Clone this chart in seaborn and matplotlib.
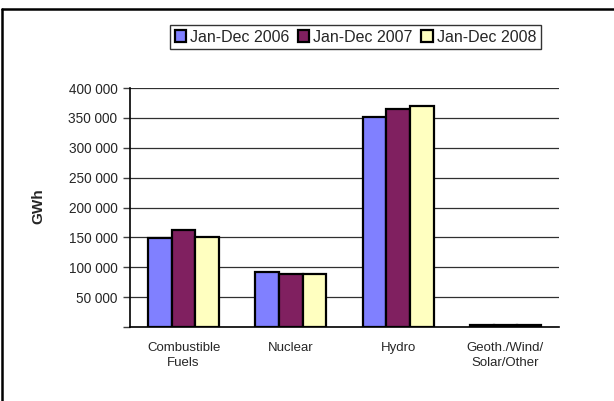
import pandas as pd
import numpy as np
import matplotlib
matplotlib.use("Agg")
import matplotlib.pyplot as plt
from matplotlib.lines import Line2D
from matplotlib.ticker import FuncFormatter
import seaborn as sns

# data
categories = ["Combustible\nFuels", "Nuclear", "Hydro", "Geoth./Wind/\nSolar/Other"]
periods = ["Jan-Dec 2006", "Jan-Dec 2007", "Jan-Dec 2008"]
gwh_2006 = [148500, 92500, 352000, 3500]
gwh_2007 = [162500, 88500, 365500, 3800]
gwh_2008 = [151000, 88500, 370000, 3600]

df = pd.DataFrame({
    "source": categories * 3,
    "period": np.repeat(periods, len(categories)),
    "GWh": gwh_2006 + gwh_2007 + gwh_2008,
})

sns.set_style("white")
plt.rcParams["font.family"] = ["Liberation Sans", "DejaVu Sans"]

colors = ["#8080FF", "#802060", "#FFFFC0"]

fig = plt.figure(figsize=(6.14, 4.01), dpi=100)
ax = fig.add_axes([130 / 614, 74 / 401, 429 / 614, 239 / 401])

sns.barplot(data=df, x="source", y="GWh", hue="period", order=categories,
            hue_order=periods, palette=colors, width=0.66, edgecolor="black",
            linewidth=1.6, saturation=1, ax=ax, legend=True)

ax.set_xlim(-0.5, 3.5)
ax.set_ylim(0, 400000)
ax.set_yticks(np.arange(0, 400001, 50000))
ax.yaxis.set_major_formatter(FuncFormatter(
    lambda v, p: "" if v == 0 else f"{int(v):,}".replace(",", " ")))
ax.yaxis.grid(True, color="#303030", linewidth=0.9)
ax.set_axisbelow(True)

ax.set_xticks(np.arange(-0.5, 3.6, 1), minor=True)
ax.tick_params(axis="x", which="major", length=0, pad=11, labelsize=9.5)
ax.tick_params(axis="x", which="minor", length=5, width=1, color="#404040", direction="out")
ax.tick_params(axis="y", length=5, width=1, color="#404040", direction="out",
               left=True, labelsize=9.8, pad=4)
for lbl in ax.get_xticklabels():
    lbl.set_linespacing(1.3)

for side in ["top", "right"]:
    ax.spines[side].set_visible(False)
ax.spines["left"].set_color("black")
ax.spines["left"].set_linewidth(1.2)
ax.spines["bottom"].set_color("black")
ax.spines["bottom"].set_linewidth(1.2)

ax.set_xlabel("")
ax.set_ylabel("GWh", fontsize=11, fontweight="bold")
ax.yaxis.set_label_coords(-0.198, 0.506)

handles, labels = ax.get_legend_handles_labels()
ax.legend(handles, labels, loc="center", bbox_to_anchor=(355.5 / 614, 1 - 37 / 401),
          bbox_transform=fig.transFigure, ncol=3, frameon=True, fancybox=False,
          edgecolor="black", fontsize=11.5, handlelength=0.7, handleheight=0.7,
          handletextpad=0.25, columnspacing=0.55, borderpad=0.3, borderaxespad=0)
ax.get_legend().get_frame().set_linewidth(1)

# chart frame (top and left edges)
fig.add_artist(Line2D([2 / 614, 1], [1 - 9.3 / 401, 1 - 9.3 / 401], color="black", linewidth=1.8,
                      transform=fig.transFigure))
fig.add_artist(Line2D([2 / 614, 2 / 614], [0, 1 - 9.3 / 401], color="black", linewidth=1.8,
                      transform=fig.transFigure))

plt.savefig("out.png", dpi=100)
